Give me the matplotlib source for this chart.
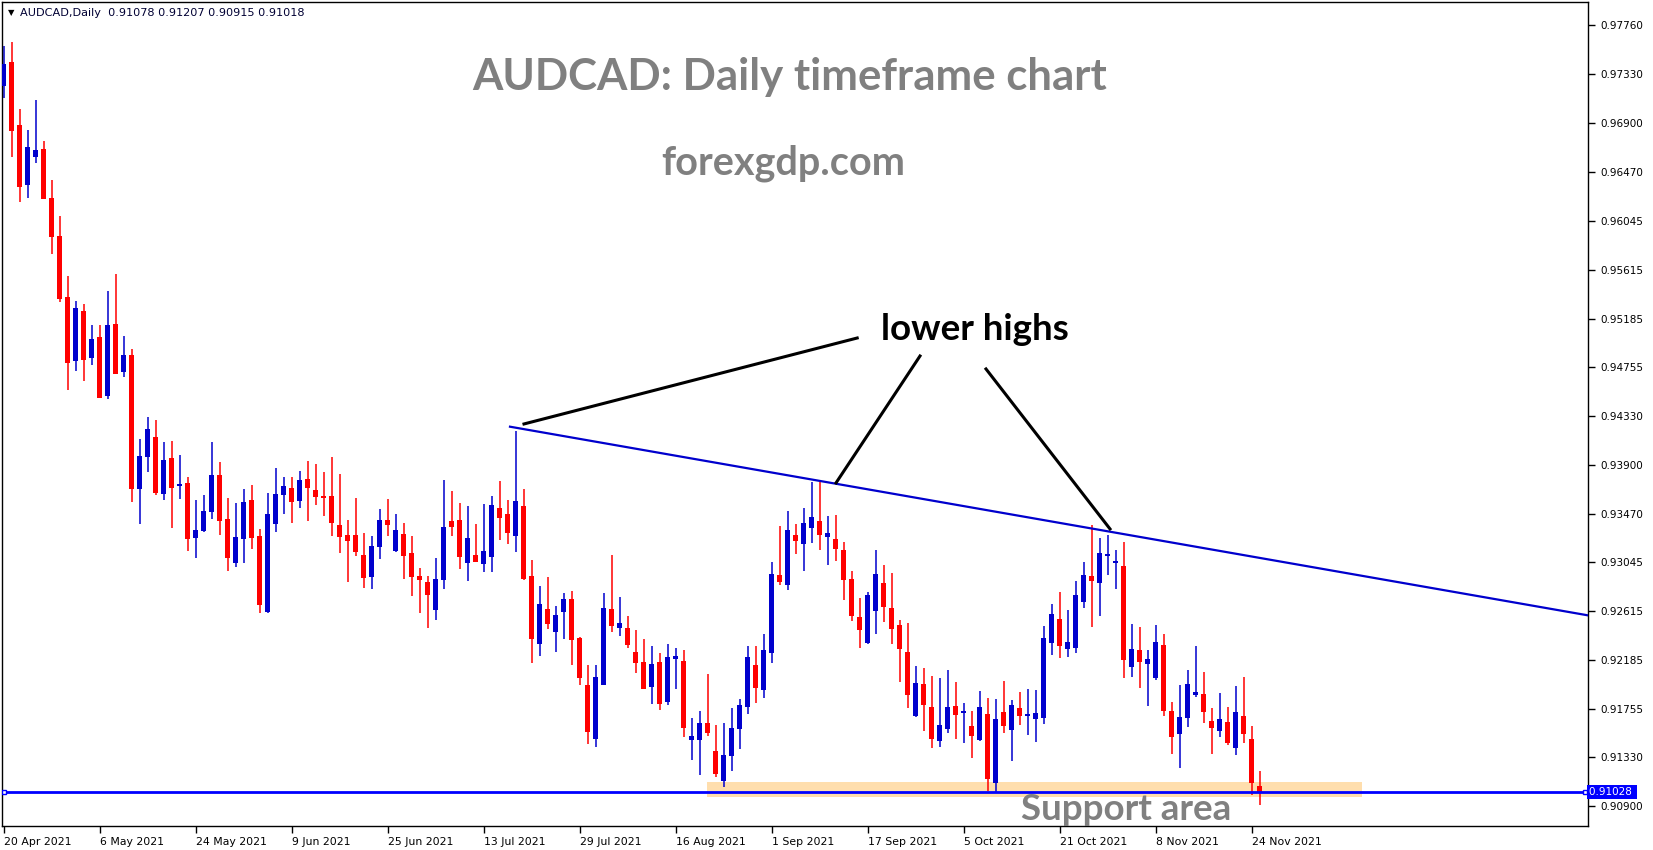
##################################################
# AUDCAD daily candles - lower highs / support area
##################################################

import numpy as np
import pandas as pd
import matplotlib
matplotlib.use('Agg')
import matplotlib.pyplot as plt
import matplotlib.transforms as mtransforms
from matplotlib.patches import Rectangle

###############################
# Data
###############################

opens = [0.97230, 0.97438, 0.96884, 0.96360, 0.96606, 0.96674, 0.96243, 0.95910, 0.95374, 0.94815,
         0.95251, 0.94841, 0.95023, 0.94508, 0.95137, 0.94718, 0.94865, 0.93691, 0.93972, 0.94145,
         0.93647, 0.93960, 0.93714, 0.93741, 0.93260, 0.93322, 0.93489, 0.93811, 0.93424, 0.93041,
         0.93252, 0.93591, 0.93275, 0.92611, 0.93383, 0.93638, 0.93697, 0.93585, 0.93776, 0.93679,
         0.93626, 0.93626, 0.93372, 0.93284, 0.93284, 0.93108, 0.92918, 0.93181, 0.93416, 0.93146,
         0.93293, 0.93126, 0.92927, 0.92871, 0.92628, 0.92892, 0.93407, 0.93416, 0.93041, 0.93108,
         0.93032, 0.93094, 0.93521, 0.93468, 0.93278, 0.93538, 0.92924, 0.92330, 0.92634, 0.92435,
         0.92611, 0.92722, 0.92382, 0.91967, 0.91495, 0.91969, 0.92634, 0.92470, 0.92467, 0.92256,
         0.92168, 0.91952, 0.92168, 0.91820, 0.92198, 0.92177, 0.91486, 0.91486, 0.91633, 0.91387,
         0.91126, 0.91346, 0.91583, 0.91776, 0.92142, 0.91926, 0.92250, 0.92933, 0.92848, 0.93284,
         0.93208, 0.93348, 0.93407, 0.93269, 0.93249, 0.93152, 0.92897, 0.92564, 0.92338, 0.92619,
         0.92862, 0.92643, 0.92493, 0.92256, 0.91697, 0.91975, 0.91773, 0.91478, 0.91583, 0.91782,
         0.91724, 0.91607, 0.91486, 0.91712, 0.91109, 0.91729, 0.91574, 0.91765, 0.91697, 0.91671,
         0.91680, 0.92338, 0.92546, 0.92286, 0.92294, 0.92698, 0.92924, 0.92865, 0.93102, 0.93041,
         0.93012, 0.92128, 0.92274, 0.92154, 0.92031, 0.92318, 0.91741, 0.91539, 0.91680, 0.91882,
         0.91888, 0.91650, 0.91566, 0.91642, 0.91416, 0.91694, 0.91492, 0.91078]

highs = [0.97578, 0.97613, 0.97025, 0.96841, 0.97104, 0.96744, 0.96401, 0.96085, 0.95558, 0.95339,
         0.95312, 0.95128, 0.95128, 0.95427, 0.95576, 0.95031, 0.94917, 0.94127, 0.94320, 0.94294,
         0.94101, 0.94109, 0.93986, 0.93793, 0.93591, 0.93635, 0.94101, 0.93925, 0.93609, 0.93565,
         0.93688, 0.93723, 0.93337, 0.93653, 0.93872, 0.93793, 0.93793, 0.93846, 0.93934, 0.93907,
         0.93837, 0.93969, 0.93820, 0.93416, 0.93609, 0.93301, 0.93275, 0.93512, 0.93600, 0.93468,
         0.93389, 0.93275, 0.92994, 0.92924, 0.93082, 0.93767, 0.93670, 0.93565, 0.93538, 0.93380,
         0.93556, 0.93626, 0.93758, 0.93591, 0.94197, 0.93688, 0.93064, 0.92836, 0.92915, 0.92660,
         0.92774, 0.92792, 0.92391, 0.92142, 0.92142, 0.92774, 0.93108, 0.92739, 0.92572, 0.92450,
         0.92370, 0.92309, 0.92248, 0.92327, 0.92291, 0.92274, 0.91677, 0.91738, 0.92063, 0.91615,
         0.91633, 0.91764, 0.91844, 0.92309, 0.92309, 0.92414, 0.93047, 0.93363, 0.93495, 0.93380,
         0.93521, 0.93749, 0.93749, 0.93451, 0.93459, 0.93222, 0.92968, 0.92731, 0.92783, 0.93152,
         0.93020, 0.92950, 0.92537, 0.92511, 0.92133, 0.92116, 0.92046, 0.92028, 0.92098, 0.91993,
         0.91808, 0.91738, 0.91914, 0.91852, 0.91844, 0.92002, 0.91835, 0.91905, 0.91931, 0.91923,
         0.92485, 0.92678, 0.92783, 0.92625, 0.92880, 0.93047, 0.93372, 0.93258, 0.93284, 0.93152,
         0.93222, 0.92502, 0.92476, 0.92274, 0.92493, 0.92414, 0.91817, 0.91966, 0.92098, 0.92309,
         0.92081, 0.91765, 0.91896, 0.91773, 0.91958, 0.92037, 0.91606, 0.91207]

lows = [0.97119, 0.96606, 0.96211, 0.96246, 0.96554, 0.96235, 0.95754, 0.95333, 0.94557, 0.94727,
        0.94639, 0.94780, 0.94488, 0.94481, 0.94699, 0.94674, 0.93577, 0.93383, 0.93840, 0.93638,
        0.93594, 0.93348, 0.93600, 0.93143, 0.93085, 0.93313, 0.93427, 0.93284, 0.92971, 0.93006,
        0.93041, 0.93164, 0.92602, 0.92602, 0.93313, 0.93471, 0.93392, 0.93524, 0.93410, 0.93550,
        0.93454, 0.93278, 0.93129, 0.92874, 0.93102, 0.92821, 0.92812, 0.93076, 0.93278, 0.93137,
        0.92900, 0.92751, 0.92602, 0.92470, 0.92540, 0.92812, 0.93278, 0.92988, 0.92883, 0.93048,
        0.92962, 0.92962, 0.93243, 0.93208, 0.93137, 0.92892, 0.92163, 0.92224, 0.92461, 0.92259,
        0.92373, 0.92145, 0.91969, 0.91451, 0.91425, 0.91965, 0.92435, 0.92400, 0.92294, 0.92075,
        0.91932, 0.91803, 0.91750, 0.91794, 0.91934, 0.91513, 0.91311, 0.91179, 0.91522, 0.91162,
        0.91074, 0.91214, 0.91407, 0.91715, 0.91811, 0.91855, 0.92163, 0.92848, 0.92804, 0.93120,
        0.92971, 0.93216, 0.93155, 0.93023, 0.93058, 0.92716, 0.92531, 0.92294, 0.92330, 0.92417,
        0.92523, 0.92330, 0.91996, 0.91768, 0.91688, 0.91566, 0.91416, 0.91425, 0.91548, 0.91495,
        0.91460, 0.91328, 0.91478, 0.91039, 0.91021, 0.91548, 0.91302, 0.91618, 0.91530, 0.91469,
        0.91627, 0.92233, 0.92207, 0.92215, 0.92251, 0.92646, 0.92479, 0.92575, 0.92935, 0.92812,
        0.92031, 0.92040, 0.91943, 0.91785, 0.92013, 0.91697, 0.91363, 0.91241, 0.91601, 0.91864,
        0.91636, 0.91364, 0.91513, 0.91443, 0.91355, 0.91460, 0.91003, 0.90915]

closes = [0.97420, 0.96835, 0.96343, 0.96691, 0.96665, 0.96237, 0.95904, 0.95359, 0.94797, 0.95277,
          0.94824, 0.95005, 0.94490, 0.95128, 0.94701, 0.94865, 0.93691, 0.93978, 0.94215, 0.93656,
          0.93943, 0.93700, 0.93732, 0.93252, 0.93328, 0.93495, 0.93811, 0.93410, 0.93085, 0.93266,
          0.93574, 0.93260, 0.92672, 0.93468, 0.93644, 0.93714, 0.93577, 0.93767, 0.93700, 0.93621,
          0.93612, 0.93392, 0.93269, 0.93234, 0.93137, 0.92909, 0.93187, 0.93416, 0.93375, 0.93328,
          0.93102, 0.92918, 0.92892, 0.92760, 0.92897, 0.93354, 0.93357, 0.93094, 0.93257, 0.93050,
          0.93143, 0.93547, 0.93436, 0.93304, 0.93582, 0.92900, 0.92373, 0.92678, 0.92505, 0.92581,
          0.92722, 0.92365, 0.92031, 0.91557, 0.92037, 0.92643, 0.92488, 0.92511, 0.92321, 0.92163,
          0.91934, 0.92151, 0.91803, 0.92212, 0.92221, 0.91592, 0.91519, 0.91633, 0.91548, 0.91188,
          0.91352, 0.91589, 0.91791, 0.92212, 0.91943, 0.92274, 0.92941, 0.92874, 0.93328, 0.93234,
          0.93389, 0.93442, 0.93287, 0.93301, 0.93164, 0.92892, 0.92575, 0.92452, 0.92757, 0.92941,
          0.92654, 0.92461, 0.92286, 0.91882, 0.91984, 0.91794, 0.91495, 0.91615, 0.91773, 0.91706,
          0.91732, 0.91522, 0.91773, 0.91144, 0.91668, 0.91609, 0.91791, 0.91697, 0.91712, 0.91721,
          0.92379, 0.92590, 0.92312, 0.92344, 0.92757, 0.92933, 0.92883, 0.93126, 0.93117, 0.93055,
          0.92189, 0.92283, 0.92171, 0.92195, 0.92344, 0.91741, 0.91513, 0.91686, 0.91975, 0.91905,
          0.91732, 0.91592, 0.91668, 0.91460, 0.91729, 0.91539, 0.91109, 0.91018]

date_ticks = [0, 12, 24, 36, 48, 60, 72, 84, 96, 108, 120, 132, 144, 156]
date_labels = ['20 Apr 2021', '6 May 2021', '24 May 2021', '9 Jun 2021', '25 Jun 2021',
               '13 Jul 2021', '29 Jul 2021', '16 Aug 2021', '1 Sep 2021', '17 Sep 2021',
               '5 Oct 2021', '21 Oct 2021', '8 Nov 2021', '24 Nov 2021']

price_ticks = [0.97760, 0.97330, 0.96900, 0.96470, 0.96045, 0.95615, 0.95185, 0.94755,
               0.94330, 0.93900, 0.93470, 0.93045, 0.92615, 0.92185, 0.91755, 0.91330, 0.90900]

support_level = 0.91028
support_zone = [0.90986, 0.91115]     # bottom / top of the orange band
trend_x = [63.3, 198.05]
trend_y = [0.94235, 0.92578]

df = pd.DataFrame({'open': opens, 'high': highs, 'low': lows, 'close': closes})
df['bull'] = df['close'] >= df['open']

###############################
# Figure
###############################

W, H = 1653, 850
fig = plt.figure(figsize=(W / 100, H / 100), dpi=100)
fig.patch.set_facecolor('white')
ax = fig.add_axes([2 / W, 24 / H, 1586 / W, 824 / H])

x = np.arange(len(df))
col = np.where(df['bull'], '#0000CD', '#FF0000')

# support band behind the candles
ax.add_patch(Rectangle((87.9, support_zone[0]), 169.8 - 87.9, support_zone[1] - support_zone[0],
                       facecolor='#FFDEAD', edgecolor='none', zorder=1))

# candles
ax.vlines(x, df['low'], df['high'], colors=col, linewidth=1.1, zorder=2)
body_lo = np.minimum(df['open'], df['close'])
body_h = np.maximum((df['close'] - df['open']).abs(), 0.00012)
ax.bar(x, body_h, bottom=body_lo, width=0.62, color=col, linewidth=0, zorder=3)

# trend line + support line
ax.plot(trend_x, trend_y, color='#0000CD', linewidth=1.6, zorder=4)
ax.axhline(support_level, color='#0000FF', linewidth=2, zorder=4)
ax.plot([0.1, 197.7], [support_level, support_level], linestyle='none', marker='s',
        markersize=3.5, markerfacecolor='white', markeredgecolor='#0000FF', zorder=5)

# "lower highs" pointers
ax.plot([65.05, 106.7], [0.94259, 0.95014], color='black', linewidth=2.2, zorder=5)
ax.plot([114.55, 104.05], [0.94856, 0.93741], color='black', linewidth=2.2, zorder=5)
ax.plot([122.8, 138.3], [0.94742, 0.93337], color='black', linewidth=2.2, zorder=5)

ax.set_xlim(-0.2, 198.05)
ax.set_ylim(0.90728, 0.97965)

###############################
# Axes styling (MT4 look)
###############################

for s in ax.spines.values():
    s.set_color('black')
    s.set_linewidth(1)

ax.yaxis.tick_right()
ax.set_yticks(price_ticks)
ax.set_yticklabels(['%.5f' % p for p in price_ticks])
ax.set_xticks(date_ticks)
ax.set_xticklabels(date_labels, ha='left')
ax.tick_params(axis='y', direction='out', length=5, width=1, pad=4, labelsize=7.5, colors='black')
ax.tick_params(axis='x', direction='out', length=5, width=1, pad=3, labelsize=7.8, colors='black')

# price tag for the support line
trans = mtransforms.blended_transform_factory(ax.transAxes, ax.transData)
ax.text(1.0007, support_level, '0.91028 ', transform=trans, ha='left', va='center',
        fontsize=7.5, color='white', zorder=6, clip_on=False,
        bbox=dict(boxstyle='square,pad=0.2', facecolor='#0000FF', edgecolor='none'))

###############################
# Texts
###############################

fig.text(8 / W, 1 - 13 / H, '\u25bc', fontsize=6, color='black', va='center')
fig.text(20 / W, 1 - 13 / H, 'AUDCAD,Daily  0.91078 0.91207 0.90915 0.91018',
         fontsize=8.1, color='#000033', va='center')

fig.text(790 / W, 1 - 77 / H, 'AUDCAD: Daily timeframe chart', fontsize=31.5, fontweight='bold',
         family='Lato', color='#808080', ha='center', va='center')
fig.text(783 / W, 1 - 163 / H, 'forexgdp.com', fontsize=28.5, fontweight='bold',
         family='Lato', color='#808080', ha='center', va='center')
fig.text(975 / W, 1 - 329 / H, 'lower highs', fontsize=26.5, fontweight='bold',
         family='Lato', color='black', ha='center', va='center')
fig.text(1126 / W, 1 - 809 / H, 'Support area', fontsize=26.5, fontweight='bold',
         family='Lato', color='#808080', ha='center', va='center')

plt.savefig('out.png', dpi=100)
